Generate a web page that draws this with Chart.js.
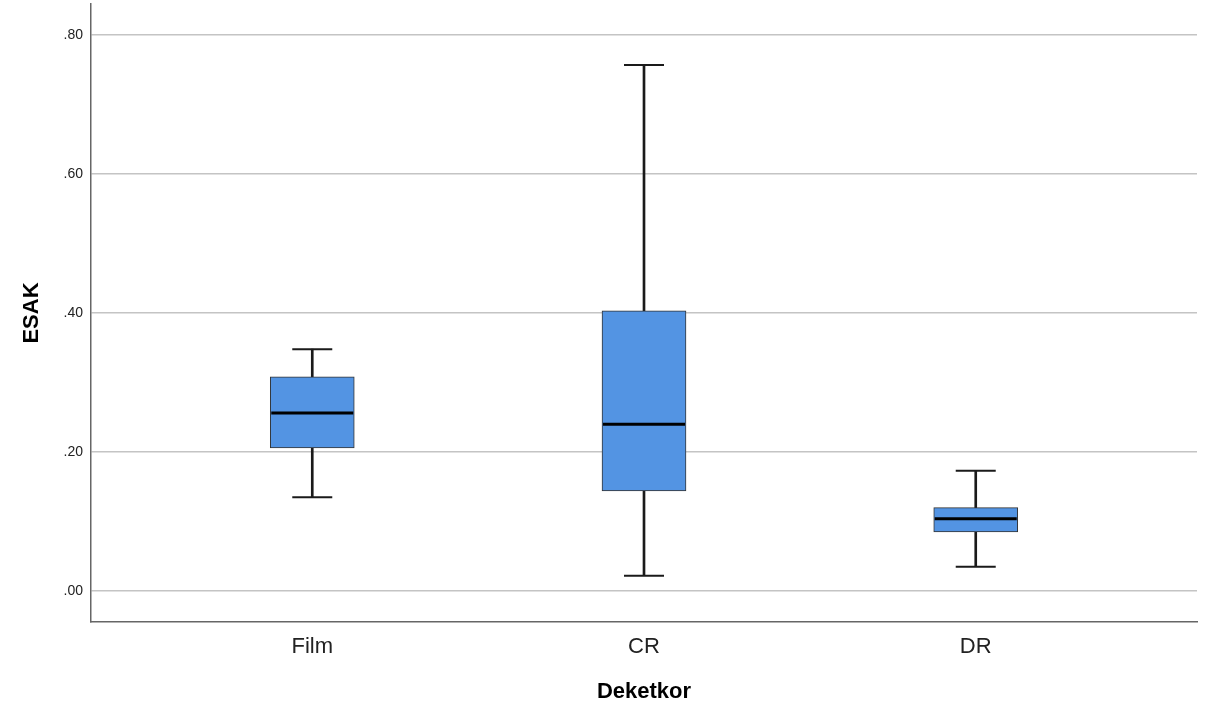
<!DOCTYPE html>
<html>
<head>
<meta charset="utf-8">
<script src="https://cdn.jsdelivr.net/npm/chart.js@4.4.1/dist/chart.umd.min.js"></script>
<style>
  html, body { margin: 0; padding: 0; background: #fff; }
  canvas { display: block; }
</style>
</head>
<body>
<canvas id="myChart" width="1211" height="705"></canvas>
<script>
const categories = ['Film', 'CR', 'DR'];
const whiskerLow = [0.135, 0.022, 0.035];
const q1 = [0.206, 0.144, 0.085];
const median = [0.256, 0.240, 0.104];
const q3 = [0.308, 0.403, 0.120];
const whiskerHigh = [0.348, 0.757, 0.173];
const yTicks = [0, 0.2, 0.4, 0.6, 0.8];

const font = "'Liberation Sans', Arial, sans-serif";
const boxFill = '#5394e3';
const ink = '#1a1a1a';

const ctx = document.getElementById('myChart');

new Chart(ctx, {
  type: 'bar',
  data: {
    datasets: [
      {
        // whisker stems, drawn under the boxes
        type: 'bar',
        data: categories.map((c, i) => ({x: i, y: [whiskerLow[i], whiskerHigh[i]]})),
        backgroundColor: ink,
        barThickness: 2,
        grouped: false,
        order: 3
      },
      {
        type: 'bar',
        data: categories.map((c, i) => ({x: i, y: [q1[i], q3[i]]})),
        backgroundColor: boxFill,
        borderColor: '#333',
        borderWidth: 1,
        borderSkipped: false,
        barThickness: 84,
        grouped: false,
        order: 2
      },
      {
        // whisker caps
        type: 'scatter',
        data: categories.flatMap((c, i) => [{x: i, y: whiskerLow[i]}, {x: i, y: whiskerHigh[i]}]),
        pointStyle: 'line',
        pointRadius: 20,
        borderColor: ink,
        borderWidth: 2,
        order: 1
      },
      {
        // medians
        type: 'scatter',
        data: categories.map((c, i) => ({x: i, y: median[i]})),
        pointStyle: 'line',
        pointRadius: 41,
        borderColor: '#000',
        borderWidth: 3,
        order: 0
      }
    ]
  },
  options: {
    responsive: false,
    animation: false,
    events: [],
    layout: {autoPadding: false, padding: {top: 4, right: 14, bottom: 0, left: 0}},
    plugins: {
      legend: {display: false},
      tooltip: {enabled: false}
    },
    scales: {
      x: {
        type: 'linear',
        min: -0.667,
        max: 2.667,
        offset: false,
        afterFit: (s) => { s.height = 83; s.paddingLeft = 0; s.paddingRight = 0; },
        afterBuildTicks: (s) => { s.ticks = categories.map((c, i) => ({value: i})); },
        grid: {display: false, offset: false},
        border: {display: true, color: '#666', width: 1.5},
        ticks: {
          padding: 4,
          color: '#222',
          font: {family: font, size: 22},
          maxRotation: 0,
          callback: (v) => categories[v] ?? ''
        },
        title: {
          display: true,
          text: 'Deketkor',
          color: '#000',
          font: {family: font, size: 22, weight: 'bold'},
          padding: {top: 0, bottom: 0}
        }
      },
      y: {
        min: -0.0446,
        max: 0.8446,
        afterFit: (s) => { s.width = 91; s.paddingTop = 0; s.paddingBottom = 0; },
        afterBuildTicks: (s) => { s.ticks = yTicks.map(v => ({value: v})); },
        grid: {color: '#c4c4c4', lineWidth: 1.5, drawTicks: false},
        border: {display: true, color: '#666', width: 1.5},
        ticks: {
          padding: 8,
          color: '#222',
          font: {family: font, size: 14},
          callback: (v) => v.toFixed(2).replace(/^0/, '')
        },
        title: {
          display: true,
          text: 'ESAK',
          color: '#000',
          font: {family: font, size: 22, weight: 'bold'},
          padding: {top: 19, bottom: 0}
        }
      }
    }
  }
});
</script>
</body>
</html>
